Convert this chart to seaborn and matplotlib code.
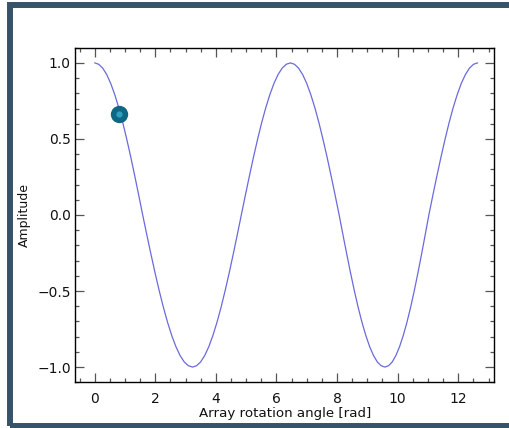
# Cosine amplitude vs array rotation angle, IDL-style frame

import matplotlib
matplotlib.use('Agg')
import matplotlib.pyplot as plt
from matplotlib.patches import Rectangle
from matplotlib.ticker import MultipleLocator, FuncFormatter
import seaborn as sns
import pandas as pd

# Curve samples
angle = [0.0, 0.132, 0.264, 0.396, 0.528, 0.660, 0.793, 0.925, 1.057, 1.189, 1.321, 1.453, 1.585,
         1.722, 1.859, 1.996, 2.133, 2.271, 2.408, 2.545, 2.682, 2.819, 2.956, 3.093, 3.23,
         3.364, 3.498, 3.633, 3.767, 3.901, 4.035, 4.169, 4.303, 4.438, 4.572, 4.706, 4.84,
         4.975, 5.11, 5.245, 5.38, 5.515, 5.65, 5.785, 5.92, 6.055, 6.19, 6.325, 6.46,
         6.594, 6.728, 6.863, 6.997, 7.131, 7.265, 7.399, 7.533, 7.668, 7.802, 7.936, 8.07,
         8.196, 8.322, 8.448, 8.573, 8.699, 8.825, 8.951, 9.077, 9.203, 9.328, 9.454, 9.58,
         9.701, 9.822, 9.942, 10.063, 10.184, 10.305, 10.426, 10.547, 10.667, 10.788, 10.909, 11.03,
         11.164, 11.298, 11.433, 11.567, 11.701, 11.835, 11.969, 12.103, 12.238, 12.372, 12.506, 12.64]
amplitude = [1.0, 0.991, 0.966, 0.924, 0.866, 0.793, 0.707, 0.609, 0.5, 0.383, 0.259, 0.131, 0.0,
             -0.131, -0.259, -0.383, -0.5, -0.609, -0.707, -0.793, -0.866, -0.924, -0.966, -0.991, -1.0,
             -0.991, -0.966, -0.924, -0.866, -0.793, -0.707, -0.609, -0.5, -0.383, -0.259, -0.131, 0.0,
             0.131, 0.259, 0.383, 0.5, 0.609, 0.707, 0.793, 0.866, 0.924, 0.966, 0.991, 1.0,
             0.991, 0.966, 0.924, 0.866, 0.793, 0.707, 0.609, 0.5, 0.383, 0.259, 0.131, 0.0,
             -0.131, -0.259, -0.383, -0.5, -0.609, -0.707, -0.793, -0.866, -0.924, -0.966, -0.991, -1.0,
             -0.991, -0.966, -0.924, -0.866, -0.793, -0.707, -0.609, -0.5, -0.383, -0.259, -0.131, 0.0,
             0.131, 0.259, 0.383, 0.5, 0.609, 0.707, 0.793, 0.866, 0.924, 0.966, 0.991, 1.0]

# Current position marker
marker_angle = [0.80]
marker_amp = [0.665]

df = pd.DataFrame({'angle': angle, 'amplitude': amplitude})

sns.set_theme(style='ticks')
plt.rcParams['font.family'] = ['DejaVu Sans']

fig = plt.figure(figsize=(5.09, 4.28), dpi=100)
fig.patch.set_facecolor('white')
ax = fig.add_axes([0.1473, 0.1068, 0.8238, 0.7818])

sns.lineplot(data=df, x='angle', y='amplitude', ax=ax, sort=False,
             estimator=None, color='#6a6adc', linewidth=0.9)
ax.plot(marker_angle, marker_amp, 'o', color='#0f6783', markersize=12.5,
        markeredgewidth=0, zorder=5)
ax.plot(marker_angle, marker_amp, 'o', color='#2d9fc2', markersize=4.5,
        markeredgewidth=0, zorder=6)

ax.set_xlim(-0.65, 13.19)
ax.set_ylim(-1.1, 1.1)
ax.xaxis.set_major_locator(MultipleLocator(2))
ax.xaxis.set_minor_locator(MultipleLocator(0.5))
ax.yaxis.set_major_locator(MultipleLocator(0.5))
ax.yaxis.set_minor_locator(MultipleLocator(0.1))
ax.yaxis.set_major_formatter(FuncFormatter(lambda v, p: f'{v:.1f}'.replace('-', '\u2212')))

ax.tick_params(which='both', direction='in', top=True, right=True,
               color='#555555', width=0.9)
ax.tick_params(which='major', length=6.5, labelsize=10, labelcolor='#111111')
ax.tick_params(which='minor', length=3)
ax.tick_params(axis='x', which='major', pad=7)
ax.tick_params(axis='y', which='major', pad=3)

for sp in ax.spines.values():
    sp.set_color('black')
    sp.set_linewidth(1.0)

ax.set_xlabel('Array rotation angle [rad]', fontsize=9.6, color='#111111', labelpad=1)
ax.set_ylabel('Amplitude', fontsize=9, color='#111111')
ax.yaxis.set_label_coords(-0.105, 0.5)

# dark outer frame (right side runs off the image)
fig.patches.append(Rectangle((10 / 509, 2.5 / 428), 520 / 509, (428 - 7) / 428,
                             transform=fig.transFigure, fill=False,
                             edgecolor='#37536a', linewidth=4.3, zorder=0))

fig.savefig('out.png', dpi=100)
